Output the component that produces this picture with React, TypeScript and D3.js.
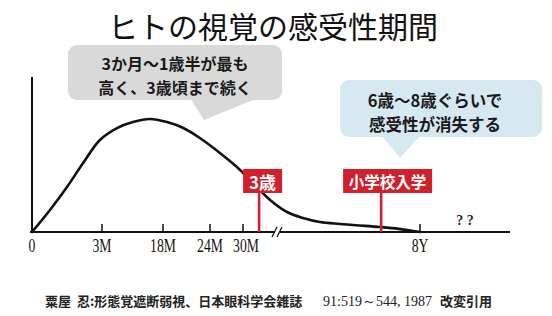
import React from 'react';
import * as d3 from 'd3';

const W = 552;
const H = 316;

const title = 'ヒトの視覚の感受性期間';

// x-axis: months (hand-drawn, piecewise axis)
const tickMonths = [0, 3, 18, 24, 30, 96];
const tickLabels = ['0', '3M', '18M', '24M', '30M', '8Y'];

// sensitivity curve (relative, peak = 100)
const curveMonths = [0, 0.77, 1.5, 2.19, 2.91, 6.7, 10.6, 14.8, 18.5, 20.6, 22.7, 25.8, 28.9, 33.7, 40.1, 46.4, 52.4, 58.7, 66.2, 72, 81, 88, 93, 96];
const curveValues = [0, 19.5, 39.8, 61, 81.4, 92, 97.3, 100, 97.3, 92, 83.2, 70, 57.5, 43.4, 28.3, 17.7, 12.4, 8.8, 7.1, 6, 4.4, 2.8, 1, 0];

const markerLabels = ['3歳', '小学校入学'];
const markerMonths = [36, 81.5];

const bubble1Lines = ['3か月～1歳半が最も', '高く、3歳頃まで続く'];
const bubble2Lines = ['6歳～8歳ぐらいで', '感受性が消失する'];
const unknownLabel = '? ?';
const citationParts = ['粟屋', '忍:形態覚遮断弱視、日本眼科学会雑誌', '91:519～544, 1987', '改変引用'];

const JP = '"Noto Sans CJK JP", "Noto Sans", sans-serif';
const SERIF = '"Liberation Serif", "DejaVu Serif", serif';
const RED = '#d1202b';

export default function App() {
  const x0 = 32;
  const baseY = 232;
  const xScale = d3.scaleLinear().domain(tickMonths).range([x0, 102, 163, 210, 243, 420]);
  const yScale = d3.scaleLinear().domain([0, 100]).range([baseY, 119]);

  const pts: [number, number][] = curveMonths.map((m, i) => [m, curveValues[i]]);
  const line = d3
    .line<[number, number]>()
    .x((d) => xScale(d[0]))
    .y((d) => yScale(d[1]))
    .curve(d3.curveCatmullRom.alpha(0.5));

  const breakX = 278;

  const markerBoxes = [
    { dx: -16, w: 39, fs: 17 },
    { dx: -38, w: 89, fs: 15.5 },
  ];

  return (
    <svg
      width={W}
      height={H}
      viewBox={`0 0 ${W} ${H}`}
      style={{ position: 'absolute', left: 0, top: 0, display: 'block', background: '#fff' }}
    >
      <rect x={0} y={0} width={W} height={H} fill="#fff" />
      {/* Title */}
      <text x={273} y={25} textAnchor="middle" dominantBaseline="central" fontFamily={JP} fontSize={30} fill="#111">
        {title}
      </text>

      {/* Gray bubble */}
      <rect x={68} y={45} width={214} height={55} rx={9} fill="#d9d9d9" />
      <polygon points="190,98 258,98 204,120" fill="#d9d9d9" />
      {bubble1Lines.map((t, i) => (
        <text
          key={t}
          x={175}
          y={63 + i * 23.5}
          textAnchor="middle"
          dominantBaseline="central"
          fontFamily={JP}
          fontWeight={700}
          fontSize={16}
          fill="#1a1a1a"
        >
          {t}
        </text>
      ))}

      {/* Blue bubble */}
      <rect x={340} y={80} width={202} height={57} rx={9} fill="#d6e8f0" />
      <polygon points="382,136 420,136 400,158" fill="#d6e8f0" />
      {bubble2Lines.map((t, i) => (
        <text
          key={t}
          x={435}
          y={100 + i * 24}
          textAnchor="middle"
          dominantBaseline="central"
          fontFamily={JP}
          fontWeight={700}
          fontSize={16.5}
          fill="#1a1a1a"
        >
          {t}
        </text>
      ))}

      {/* Axes */}
      <line x1={x0} y1={77} x2={x0} y2={baseY} stroke="#111" strokeWidth={2} />
      <line x1={30} y1={baseY} x2={510} y2={baseY} stroke="#111" strokeWidth={2} />
      {tickMonths.slice(1).map((m) => (
        <line key={m} x1={xScale(m)} y1={baseY} x2={xScale(m)} y2={baseY - 8} stroke="#111" strokeWidth={1.5} />
      ))}
      {tickMonths.map((m, i) => (
        <g key={tickLabels[i]} transform={`translate(${xScale(m) + (i === 4 ? 3 : 0)},${252}) scale(0.72,1)`}>
          <text textAnchor="middle" fontFamily={SERIF} fontSize={19} fill="#111">
            {tickLabels[i]}
          </text>
        </g>
      ))}
      {/* axis break */}
      <rect x={breakX - 4} y={baseY - 2} width={6} height={4} fill="#fff" />
      <line x1={breakX - 6} y1={baseY + 5} x2={breakX - 1} y2={baseY - 5} stroke="#111" strokeWidth={1.3} />
      <line x1={breakX - 1} y1={baseY + 5} x2={breakX + 4} y2={baseY - 5} stroke="#111" strokeWidth={1.3} />

      {/* Curve */}
      <path d={line(pts) || ''} fill="none" stroke="#111" strokeWidth={2.6} strokeLinecap="round" />

      {/* unknown */}
      <text x={465} y={225} textAnchor="middle" fontFamily={SERIF} fontWeight={700} fontSize={14} fill="#222">
        {unknownLabel}
      </text>

      {/* Red markers */}
      {markerMonths.map((m, i) => {
        const mx = xScale(m);
        const b = markerBoxes[i];
        return (
          <g key={markerLabels[i]}>
            <line x1={mx} y1={190} x2={mx} y2={baseY} stroke={RED} strokeWidth={2.6} />
            <rect x={mx + b.dx} y={169} width={b.w} height={24} fill={RED} />
            <text
              x={mx + b.dx + b.w / 2}
              y={181}
              textAnchor="middle"
              dominantBaseline="central"
              fontFamily={JP}
              fontWeight={700}
              fontSize={b.fs}
              fill="#fff"
            >
              {markerLabels[i]}
            </text>
          </g>
        );
      })}

      {/* Citation */}
      <g fontWeight={700} fontSize={13} fill="#222">
        <text x={45} y={306} fontFamily={JP}>{citationParts[0]}</text>
        <text x={77} y={306} fontFamily={JP}>{citationParts[1]}</text>
        <text x={323} y={306} fontFamily={SERIF} fontWeight={400} fontSize={14}>{citationParts[2]}</text>
        <text x={440} y={306} fontFamily={JP}>{citationParts[3]}</text>
      </g>
    </svg>
  );
}
